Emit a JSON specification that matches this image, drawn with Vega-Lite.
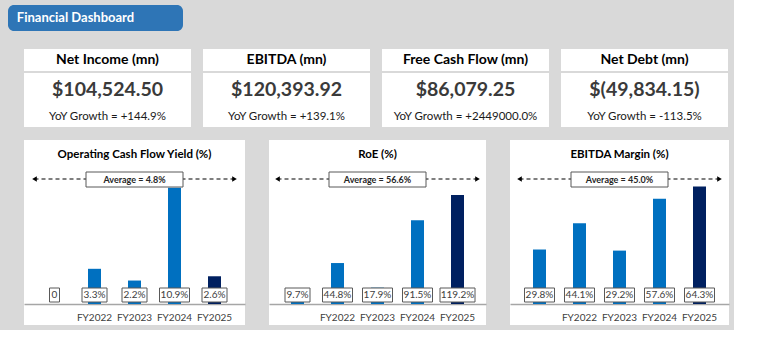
{
  "$schema": "https://vega.github.io/schema/vega-lite/v6.json",
  "background": "#d9d9d9",
  "padding": {"left": 8, "top": 5, "right": 5, "bottom": 5},
  "config": {
    "view": {"fill": "#ffffff", "stroke": null},
    "font": "Lato",
    "text": {"font": "Lato"}
  },
  "datasets": {
    "kpi": [
      {"card": "Net Income (mn)", "amount": 104524.50, "growth": 144.9},
      {"card": "EBITDA (mn)", "amount": 120393.92, "growth": 139.1},
      {"card": "Free Cash Flow (mn)", "amount": 86079.25, "growth": 2449000.0},
      {"card": "Net Debt (mn)", "amount": -49834.15, "growth": -113.5}
    ],
    "ratios": [
      {"metric": "OCF Yield", "year": "FY2021", "value": 0},
      {"metric": "OCF Yield", "year": "FY2022", "value": 3.3},
      {"metric": "OCF Yield", "year": "FY2023", "value": 2.2},
      {"metric": "OCF Yield", "year": "FY2024", "value": 10.9},
      {"metric": "OCF Yield", "year": "FY2025", "value": 2.6},
      {"metric": "RoE", "year": "FY2021", "value": 9.7},
      {"metric": "RoE", "year": "FY2022", "value": 44.8},
      {"metric": "RoE", "year": "FY2023", "value": 17.9},
      {"metric": "RoE", "year": "FY2024", "value": 91.5},
      {"metric": "RoE", "year": "FY2025", "value": 119.2},
      {"metric": "EBITDA Margin", "year": "FY2021", "value": 29.8},
      {"metric": "EBITDA Margin", "year": "FY2022", "value": 44.1},
      {"metric": "EBITDA Margin", "year": "FY2023", "value": 29.2},
      {"metric": "EBITDA Margin", "year": "FY2024", "value": 57.6},
      {"metric": "EBITDA Margin", "year": "FY2025", "value": 64.3}
    ]
  },
  "spacing": 18,
  "vconcat": [
    {
      "width": 175, "height": 26,
      "view": {"fill": "#2e75b6", "cornerRadius": 6, "stroke": null},
      "data": {"values": [{"title": "Financial Dashboard"}]},
      "mark": {"type": "text", "color": "#ffffff", "fontSize": 13, "fontWeight": "bold", "dx": -20},
      "encoding": {"text": {"field": "title"}}
    },
    {
      "spacing": 15,
      "hconcat": [
        {
          "width": 1, "height": 5,
          "view": {"fill": null, "stroke": null},
          "data": {"values": []},
          "mark": "point"
        },
        {
          "spacing": 13,
          "vconcat": [
            {
              "spacing": 2,
              "vconcat": [
                {
                  "data": {"name": "kpi"},
                  "facet": {"column": {"field": "card", "type": "nominal", "header": null, "sort": ["Net Income (mn)", "EBITDA (mn)", "Free Cash Flow (mn)", "Net Debt (mn)"]}},
                  "spacing": 12,
                  "spec": {
                    "width": 167, "height": 22,
                    "view": {"fill": "#ffffff", "stroke": null},
                    "mark": {"type": "text", "fontSize": 14, "fontWeight": "bold", "color": "#000000"},
                    "encoding": {"text": {"field": "card"}}
                  }
                },
                {
                  "spacing": 0,
                  "vconcat": [
                    {
                      "data": {"name": "kpi"},
                      "transform": [
                        {"calculate": "datum.amount < 0 ? '$(' + format(-datum.amount, ',.2f') + ')' : '$' + format(datum.amount, ',.2f')", "as": "valueText"}
                      ],
                      "facet": {"column": {"field": "card", "type": "nominal", "header": null, "sort": ["Net Income (mn)", "EBITDA (mn)", "Free Cash Flow (mn)", "Net Debt (mn)"]}},
                      "spacing": 12,
                      "spec": {
                        "width": 167, "height": 33,
                        "view": {"fill": "#ffffff", "stroke": null},
                        "mark": {"type": "text", "fontSize": 19.5, "fontWeight": "bold", "color": "#3a3a3a"},
                        "encoding": {"text": {"field": "valueText"}}
                      }
                    },
                    {
                      "data": {"name": "kpi"},
                      "transform": [
                        {"calculate": "'YoY Growth = ' + (datum.growth >= 0 ? '+' : '-') + format(abs(datum.growth), '.1f') + '%'", "as": "growthText"}
                      ],
                      "facet": {"column": {"field": "card", "type": "nominal", "header": null, "sort": ["Net Income (mn)", "EBITDA (mn)", "Free Cash Flow (mn)", "Net Debt (mn)"]}},
                      "spacing": 12,
                      "spec": {
                        "width": 167, "height": 21,
                        "view": {"fill": "#ffffff", "stroke": null},
                        "mark": {"type": "text", "fontSize": 11.5, "color": "#1a1a1a"},
                        "encoding": {"text": {"field": "growthText"}}
                      }
                    }
                  ]
                }
              ]
            },
            {
              "spacing": 24,
              "hconcat": [
                {
                  "width": 221, "height": 185,
                  "data": {"name": "ratios"},
                  "transform": [
                    {"filter": "datum.metric === 'OCF Yield'"},
                    {"calculate": "datum.value === 0 ? '0' : format(datum.value, '.1f') + '%'", "as": "label"},
                    {"calculate": "5 * length(datum.label) + 5", "as": "boxWidth"}
                  ],
                  "layer": [
                    {
                      "mark": {"type": "bar", "width": 13},
                      "encoding": {
                        "x": {"field": "year", "type": "nominal", "scale": {"domain": ["FY2021", "FY2022", "FY2023", "FY2024", "FY2025"], "paddingInner": 0, "paddingOuter": 0.2625},
                          "axis": {"title": null, "ticks": false, "tickSize": 0, "labelPadding": 8, "labelFontSize": 10, "labelColor": "#404040", "labelAngle": 0, "domainColor": "#a6a6a6", "domainWidth": 1.5, "offset": -21, "grid": false, "labelExpr": "datum.value === 'FY2021' ? '' : datum.value"}},
                        "y": {"field": "value", "type": "quantitative", "scale": {"domain": [0, 12], "range": [164, 36], "nice": false}, "axis": null},
                        "color": {"condition": {"test": "datum.year === 'FY2025'", "value": "#002060"}, "value": "#0070c0"}
                      }
                    },
                    {
                      "mark": {"type": "tick", "orient": "horizontal", "thickness": 14, "yOffset": -9, "filled": true, "fill": "#ffffff", "stroke": "#595959", "strokeWidth": 1, "opacity": 1},
                      "encoding": {
                        "x": {"field": "year", "type": "nominal"},
                        "y": {"datum": 0, "type": "quantitative", "axis": null},
                        "size": {"field": "boxWidth", "type": "quantitative", "scale": null, "legend": null}
                      }
                    },
                    {
                      "mark": {"type": "text", "yOffset": -9, "fontSize": 10, "color": "#404040"},
                      "encoding": {
                        "x": {"field": "year", "type": "nominal"},
                        "y": {"datum": 0, "type": "quantitative", "axis": null},
                        "text": {"field": "label"}
                      }
                    },
                    {
                      "transform": [
                        {"filter": "datum.value > 0"},
                        {"aggregate": [{"op": "mean", "field": "value", "as": "avg"}]},
                        {"calculate": "'Average = ' + format(datum.avg, '.1f') + '%'", "as": "avgLabel"}
                      ],
                      "layer": [
                        {
                          "mark": {"type": "rule", "strokeDash": [4, 3], "color": "#000000", "strokeWidth": 1.2, "yOffset": 3},
                          "encoding": {
                            "x": {"datum": "FY2021", "type": "nominal", "bandPosition": 0, "title": null},
                            "x2": {"datum": "FY2025", "bandPosition": 1},
                            "y": {"datum": 12, "type": "quantitative", "axis": null}
                          }
                        },
                        {
                          "mark": {"type": "point", "shape": "triangle-left", "filled": true, "color": "#000000", "size": 28, "opacity": 1, "yOffset": 3},
                          "encoding": {
                            "x": {"datum": "FY2021", "type": "nominal", "bandPosition": 0, "title": null},
                            "y": {"datum": 12, "type": "quantitative", "axis": null}
                          }
                        },
                        {
                          "mark": {"type": "point", "shape": "triangle-right", "filled": true, "color": "#000000", "size": 28, "opacity": 1, "yOffset": 3},
                          "encoding": {
                            "x": {"datum": "FY2025", "type": "nominal", "bandPosition": 1, "title": null},
                            "y": {"datum": 12, "type": "quantitative", "axis": null}
                          }
                        },
                        {
                          "mark": {"type": "tick", "orient": "horizontal", "thickness": 15, "yOffset": 3.5, "filled": true, "fill": "#ffffff", "stroke": "#595959", "strokeWidth": 1, "opacity": 1},
                          "encoding": {
                            "x": {"datum": "FY2023", "type": "nominal", "title": null},
                            "y": {"datum": 12, "type": "quantitative", "axis": null},
                            "size": {"value": 97}
                          }
                        },
                        {
                          "mark": {"type": "text", "fontSize": 9, "fontWeight": "bold", "yOffset": 3.5, "color": "#262626"},
                          "encoding": {
                            "x": {"datum": "FY2023", "type": "nominal", "title": null},
                            "y": {"datum": 12, "type": "quantitative", "axis": null},
                            "text": {"field": "avgLabel"}
                          }
                        },
                        {
                          "mark": {"type": "text", "text": "Operating Cash Flow Yield (%)", "fontSize": 11.5, "fontWeight": "bold", "yOffset": -21, "color": "#000000"},
                          "encoding": {
                            "y": {"datum": 12, "type": "quantitative", "axis": null}
                          }
                        }
                      ]
                    }
                  ]
                },
                {
                  "width": 217, "height": 185,
                  "data": {"name": "ratios"},
                  "transform": [
                    {"filter": "datum.metric === 'RoE'"},
                    {"calculate": "datum.value === 0 ? '0' : format(datum.value, '.1f') + '%'", "as": "label"},
                    {"calculate": "5 * length(datum.label) + 5", "as": "boxWidth"}
                  ],
                  "layer": [
                    {
                      "mark": {"type": "bar", "width": 13},
                      "encoding": {
                        "x": {"field": "year", "type": "nominal", "scale": {"domain": ["FY2021", "FY2022", "FY2023", "FY2024", "FY2025"], "paddingInner": 0, "paddingOuter": 0.2125},
                          "axis": {"title": null, "ticks": false, "tickSize": 0, "labelPadding": 8, "labelFontSize": 10, "labelColor": "#404040", "labelAngle": 0, "domainColor": "#a6a6a6", "domainWidth": 1.5, "offset": -21, "grid": false, "labelExpr": "datum.value === 'FY2021' ? '' : datum.value"}},
                        "y": {"field": "value", "type": "quantitative", "scale": {"domain": [0, 140], "range": [164, 36], "nice": false}, "axis": null},
                        "color": {"condition": {"test": "datum.year === 'FY2025'", "value": "#002060"}, "value": "#0070c0"}
                      }
                    },
                    {
                      "mark": {"type": "tick", "orient": "horizontal", "thickness": 14, "yOffset": -9, "filled": true, "fill": "#ffffff", "stroke": "#595959", "strokeWidth": 1, "opacity": 1},
                      "encoding": {
                        "x": {"field": "year", "type": "nominal"},
                        "y": {"datum": 0, "type": "quantitative", "axis": null},
                        "size": {"field": "boxWidth", "type": "quantitative", "scale": null, "legend": null}
                      }
                    },
                    {
                      "mark": {"type": "text", "yOffset": -9, "fontSize": 10, "color": "#404040"},
                      "encoding": {
                        "x": {"field": "year", "type": "nominal"},
                        "y": {"datum": 0, "type": "quantitative", "axis": null},
                        "text": {"field": "label"}
                      }
                    },
                    {
                      "transform": [
                        {"filter": "datum.value > 0"},
                        {"aggregate": [{"op": "mean", "field": "value", "as": "avg"}]},
                        {"calculate": "'Average = ' + format(datum.avg, '.1f') + '%'", "as": "avgLabel"}
                      ],
                      "layer": [
                        {
                          "mark": {"type": "rule", "strokeDash": [4, 3], "color": "#000000", "strokeWidth": 1.2, "yOffset": 3},
                          "encoding": {
                            "x": {"datum": "FY2021", "type": "nominal", "bandPosition": 0, "title": null},
                            "x2": {"datum": "FY2025", "bandPosition": 1},
                            "y": {"datum": 140, "type": "quantitative", "axis": null}
                          }
                        },
                        {
                          "mark": {"type": "point", "shape": "triangle-left", "filled": true, "color": "#000000", "size": 28, "opacity": 1, "yOffset": 3},
                          "encoding": {
                            "x": {"datum": "FY2021", "type": "nominal", "bandPosition": 0, "title": null},
                            "y": {"datum": 140, "type": "quantitative", "axis": null}
                          }
                        },
                        {
                          "mark": {"type": "point", "shape": "triangle-right", "filled": true, "color": "#000000", "size": 28, "opacity": 1, "yOffset": 3},
                          "encoding": {
                            "x": {"datum": "FY2025", "type": "nominal", "bandPosition": 1, "title": null},
                            "y": {"datum": 140, "type": "quantitative", "axis": null}
                          }
                        },
                        {
                          "mark": {"type": "tick", "orient": "horizontal", "thickness": 15, "yOffset": 3.5, "filled": true, "fill": "#ffffff", "stroke": "#595959", "strokeWidth": 1, "opacity": 1},
                          "encoding": {
                            "x": {"datum": "FY2023", "type": "nominal", "title": null},
                            "y": {"datum": 140, "type": "quantitative", "axis": null},
                            "size": {"value": 97}
                          }
                        },
                        {
                          "mark": {"type": "text", "fontSize": 9, "fontWeight": "bold", "yOffset": 3.5, "color": "#262626"},
                          "encoding": {
                            "x": {"datum": "FY2023", "type": "nominal", "title": null},
                            "y": {"datum": 140, "type": "quantitative", "axis": null},
                            "text": {"field": "avgLabel"}
                          }
                        },
                        {
                          "mark": {"type": "text", "text": "RoE (%)", "fontSize": 11.5, "fontWeight": "bold", "yOffset": -21, "color": "#000000"},
                          "encoding": {
                            "y": {"datum": 140, "type": "quantitative", "axis": null}
                          }
                        }
                      ]
                    }
                  ]
                },
                {
                  "width": 219, "height": 185,
                  "data": {"name": "ratios"},
                  "transform": [
                    {"filter": "datum.metric === 'EBITDA Margin'"},
                    {"calculate": "datum.value === 0 ? '0' : format(datum.value, '.1f') + '%'", "as": "label"},
                    {"calculate": "5 * length(datum.label) + 5", "as": "boxWidth"}
                  ],
                  "layer": [
                    {
                      "mark": {"type": "bar", "width": 13},
                      "encoding": {
                        "x": {"field": "year", "type": "nominal", "scale": {"domain": ["FY2021", "FY2022", "FY2023", "FY2024", "FY2025"], "paddingInner": 0, "paddingOuter": 0.2375},
                          "axis": {"title": null, "ticks": false, "tickSize": 0, "labelPadding": 8, "labelFontSize": 10, "labelColor": "#404040", "labelAngle": 0, "domainColor": "#a6a6a6", "domainWidth": 1.5, "offset": -21, "grid": false, "labelExpr": "datum.value === 'FY2021' ? '' : datum.value"}},
                        "y": {"field": "value", "type": "quantitative", "scale": {"domain": [0, 70], "range": [164, 36], "nice": false}, "axis": null},
                        "color": {"condition": {"test": "datum.year === 'FY2025'", "value": "#002060"}, "value": "#0070c0"}
                      }
                    },
                    {
                      "mark": {"type": "tick", "orient": "horizontal", "thickness": 14, "yOffset": -9, "filled": true, "fill": "#ffffff", "stroke": "#595959", "strokeWidth": 1, "opacity": 1},
                      "encoding": {
                        "x": {"field": "year", "type": "nominal"},
                        "y": {"datum": 0, "type": "quantitative", "axis": null},
                        "size": {"field": "boxWidth", "type": "quantitative", "scale": null, "legend": null}
                      }
                    },
                    {
                      "mark": {"type": "text", "yOffset": -9, "fontSize": 10, "color": "#404040"},
                      "encoding": {
                        "x": {"field": "year", "type": "nominal"},
                        "y": {"datum": 0, "type": "quantitative", "axis": null},
                        "text": {"field": "label"}
                      }
                    },
                    {
                      "transform": [
                        {"filter": "datum.value > 0"},
                        {"aggregate": [{"op": "mean", "field": "value", "as": "avg"}]},
                        {"calculate": "'Average = ' + format(datum.avg, '.1f') + '%'", "as": "avgLabel"}
                      ],
                      "layer": [
                        {
                          "mark": {"type": "rule", "strokeDash": [4, 3], "color": "#000000", "strokeWidth": 1.2, "yOffset": 3},
                          "encoding": {
                            "x": {"datum": "FY2021", "type": "nominal", "bandPosition": 0, "title": null},
                            "x2": {"datum": "FY2025", "bandPosition": 1},
                            "y": {"datum": 70, "type": "quantitative", "axis": null}
                          }
                        },
                        {
                          "mark": {"type": "point", "shape": "triangle-left", "filled": true, "color": "#000000", "size": 28, "opacity": 1, "yOffset": 3},
                          "encoding": {
                            "x": {"datum": "FY2021", "type": "nominal", "bandPosition": 0, "title": null},
                            "y": {"datum": 70, "type": "quantitative", "axis": null}
                          }
                        },
                        {
                          "mark": {"type": "point", "shape": "triangle-right", "filled": true, "color": "#000000", "size": 28, "opacity": 1, "yOffset": 3},
                          "encoding": {
                            "x": {"datum": "FY2025", "type": "nominal", "bandPosition": 1, "title": null},
                            "y": {"datum": 70, "type": "quantitative", "axis": null}
                          }
                        },
                        {
                          "mark": {"type": "tick", "orient": "horizontal", "thickness": 15, "yOffset": 3.5, "filled": true, "fill": "#ffffff", "stroke": "#595959", "strokeWidth": 1, "opacity": 1},
                          "encoding": {
                            "x": {"datum": "FY2023", "type": "nominal", "title": null},
                            "y": {"datum": 70, "type": "quantitative", "axis": null},
                            "size": {"value": 97}
                          }
                        },
                        {
                          "mark": {"type": "text", "fontSize": 9, "fontWeight": "bold", "yOffset": 3.5, "color": "#262626"},
                          "encoding": {
                            "x": {"datum": "FY2023", "type": "nominal", "title": null},
                            "y": {"datum": 70, "type": "quantitative", "axis": null},
                            "text": {"field": "avgLabel"}
                          }
                        },
                        {
                          "mark": {"type": "text", "text": "EBITDA Margin (%)", "fontSize": 11.5, "fontWeight": "bold", "yOffset": -21, "color": "#000000"},
                          "encoding": {
                            "y": {"datum": 70, "type": "quantitative", "axis": null}
                          }
                        }
                      ]
                    }
                  ]
                }
              ]
            }
          ]
        }
      ]
    }
  ]
}
